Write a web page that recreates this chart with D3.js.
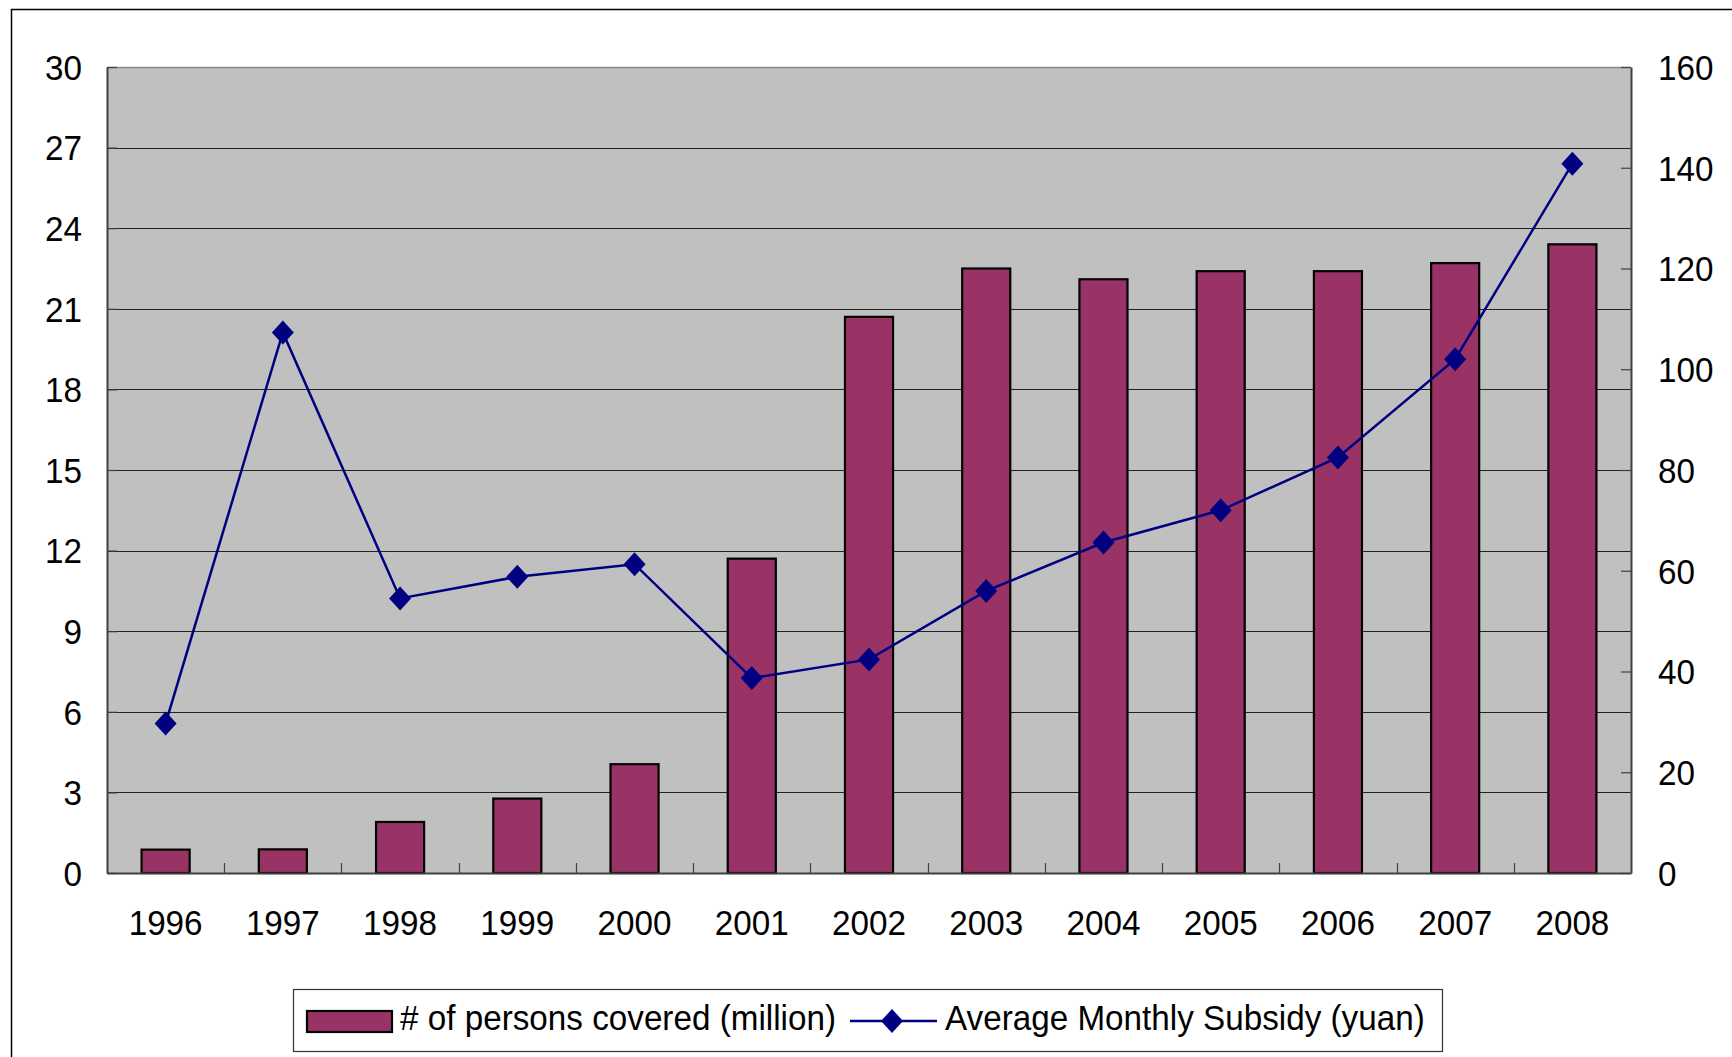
<!DOCTYPE html>
<html>
<head>
<meta charset="utf-8">
<script src="https://cdnjs.cloudflare.com/ajax/libs/d3/7.8.5/d3.min.js"></script>
<style>
    html, body { margin: 0; padding: 0; background: #fff; }
    svg { display: block; }
    text { font-family: 'Liberation Sans', Arial, sans-serif; fill: #000; }
</style>
</head>
<body>
<svg width="1732" height="1057"></svg>
<script>
var years = ['1996', '1997', '1998', '1999', '2000', '2001', '2002', '2003', '2004', '2005', '2006', '2007', '2008'];
var persons = [0.87, 0.88, 1.9, 2.77, 4.05, 11.7, 20.7, 22.5, 22.1, 22.4, 22.4, 22.7, 23.4];
var subsidy = [29.7, 107.3, 54.5, 58.8, 61.3, 38.7, 42.4, 56.0, 65.6, 72.0, 82.5, 102.0, 140.8];
var leftTicks = [0, 3, 6, 9, 12, 15, 18, 21, 24, 27, 30];
var rightTicks = [0, 20, 40, 60, 80, 100, 120, 140, 160];
var seriesNames = ['# of persons covered (million)', 'Average Monthly Subsidy (yuan)'];

(function () {
    var svg = d3.select('svg');
    var plot = { left: 107, right: 1631, top: 67, bottom: 873 };
    var fontSize = 35;
    // the original text is a little narrow and tall
    var squeeze = 0.95;
    var barColor = '#993366';
    var lineColor = '#000080';

    var x = d3.scaleBand()
        .domain(years)
        .range([plot.left, plot.right]);
    var barWidth = x.bandwidth() * 0.41;

    var yLeft = d3.scaleLinear()
        .domain([0, 30])
        .range([plot.bottom, plot.top]);

    var yRight = d3.scaleLinear()
        .domain([0, 160])
        .range([plot.bottom, plot.top]);

    // outer chart border (right and bottom edges run off the picture)
    svg.append('rect')
        .attr('x', 11.5)
        .attr('y', 9.5)
        .attr('width', 1740)
        .attr('height', 1060)
        .attr('fill', '#fff')
        .attr('stroke', '#000')
        .attr('stroke-width', 1.5);

    // plot area
    svg.append('rect')
        .attr('x', plot.left)
        .attr('y', plot.top)
        .attr('width', plot.right - plot.left)
        .attr('height', plot.bottom - plot.top)
        .attr('fill', '#c0c0c0');

    svg.append('line')
        .attr('x1', plot.left)
        .attr('x2', plot.right)
        .attr('y1', plot.top + 0.5)
        .attr('y2', plot.top + 0.5)
        .attr('stroke', '#888')
        .attr('stroke-width', 1.5);

    // gridlines
    svg.append('g')
        .selectAll('line')
        .data(leftTicks.filter(function(d) { return d > 0 && d < 30; }))
        .enter()
        .append('line')
        .attr('x1', plot.left)
        .attr('x2', plot.right)
        .attr('y1', function(d) { return Math.round(yLeft(d)) + 0.5; })
        .attr('y2', function(d) { return Math.round(yLeft(d)) + 0.5; })
        .attr('stroke', '#222')
        .attr('stroke-width', 1);

    // bars
    svg.append('g')
        .selectAll('rect')
        .data(persons)
        .enter()
        .append('rect')
        .attr('x', function(d, i) { return x(years[i]) + (x.bandwidth() - barWidth) / 2; })
        .attr('y', function(d) { return yLeft(d); })
        .attr('width', barWidth)
        .attr('height', function(d) { return plot.bottom - yLeft(d); })
        .attr('fill', barColor)
        .attr('stroke', '#000')
        .attr('stroke-width', 2.2);

    // category boundary ticks, pointing into the plot
    svg.append('g')
        .selectAll('line')
        .data(years.slice(1))
        .enter()
        .append('line')
        .attr('x1', function(d) { return Math.round(x(d)) + 0.5; })
        .attr('x2', function(d) { return Math.round(x(d)) + 0.5; })
        .attr('y1', plot.bottom)
        .attr('y2', plot.bottom - 10)
        .attr('stroke', '#444')
        .attr('stroke-width', 1.2);

    // axes
    var leftAxis = svg.append('g')
        .attr('transform', 'translate(' + plot.left + ',0)')
        .call(d3.axisLeft(yLeft).tickValues(leftTicks).tickSizeInner(-10).tickSizeOuter(0).tickPadding(25));

    var rightAxis = svg.append('g')
        .attr('transform', 'translate(' + plot.right + ',0)')
        .call(d3.axisRight(yRight).tickValues(rightTicks).tickSizeInner(-10).tickSizeOuter(0).tickPadding(27));

    var bottomAxis = svg.append('g')
        .attr('transform', 'translate(0,' + plot.bottom + ')')
        .call(d3.axisBottom(x).tickSize(0).tickPadding(37));

    [leftAxis, rightAxis, bottomAxis].forEach(function(axis) {
        axis.select('.domain')
            .attr('stroke', '#404040')
            .attr('stroke-width', 2);
        axis.selectAll('.tick line')
            .attr('stroke', '#404040')
            .attr('stroke-width', 1.2);
        axis.selectAll('text')
            .style('font-size', fontSize + 'px')
            .style('font-family', "'Liberation Sans', Arial, sans-serif")
            .attr('fill', '#000')
            .attr('x', function() { return (+this.getAttribute('x') || 0) / squeeze; })
            .attr('transform', 'scale(' + squeeze + ',1)');
    });
    leftAxis.selectAll('text').attr('dy', '0.35em');
    rightAxis.selectAll('text').attr('dy', '0.35em');

    // subsidy line with diamond markers
    var line = d3.line()
        .x(function(d, i) { return x(years[i]) + x.bandwidth() / 2; })
        .y(function(d) { return yRight(d); });

    svg.append('path')
        .datum(subsidy)
        .attr('d', line)
        .attr('fill', 'none')
        .attr('stroke', lineColor)
        .attr('stroke-width', 2.5);

    var diamond = 'M0,-12L11,0L0,12L-11,0Z';

    svg.append('g')
        .selectAll('path')
        .data(subsidy)
        .enter()
        .append('path')
        .attr('d', diamond)
        .attr('transform', function(d, i) {
            return 'translate(' + (x(years[i]) + x.bandwidth() / 2) + ',' + yRight(d) + ')';
        })
        .attr('fill', lineColor);

    // legend
    var legend = svg.append('g');

    legend.append('rect')
        .attr('x', 293.5)
        .attr('y', 989.5)
        .attr('width', 1149)
        .attr('height', 62)
        .attr('fill', '#fff')
        .attr('stroke', '#333')
        .attr('stroke-width', 1.2);

    legend.append('rect')
        .attr('x', 307)
        .attr('y', 1011)
        .attr('width', 85)
        .attr('height', 21)
        .attr('fill', barColor)
        .attr('stroke', '#000')
        .attr('stroke-width', 2.2);

    legend.append('text')
        .attr('x', 400 / squeeze)
        .attr('y', 1030)
        .attr('transform', 'scale(' + squeeze + ',1)')
        .style('font-size', fontSize + 'px')
        .text(seriesNames[0]);

    legend.append('line')
        .attr('x1', 850)
        .attr('x2', 937)
        .attr('y1', 1021)
        .attr('y2', 1021)
        .attr('stroke', lineColor)
        .attr('stroke-width', 2.5);

    legend.append('path')
        .attr('d', diamond)
        .attr('transform', 'translate(892,1021)')
        .attr('fill', lineColor);

    legend.append('text')
        .attr('x', 945 / squeeze)
        .attr('y', 1030)
        .attr('transform', 'scale(' + squeeze + ',1)')
        .style('font-size', fontSize + 'px')
        .text(seriesNames[1]);
}());
</script>
</body>
</html>
